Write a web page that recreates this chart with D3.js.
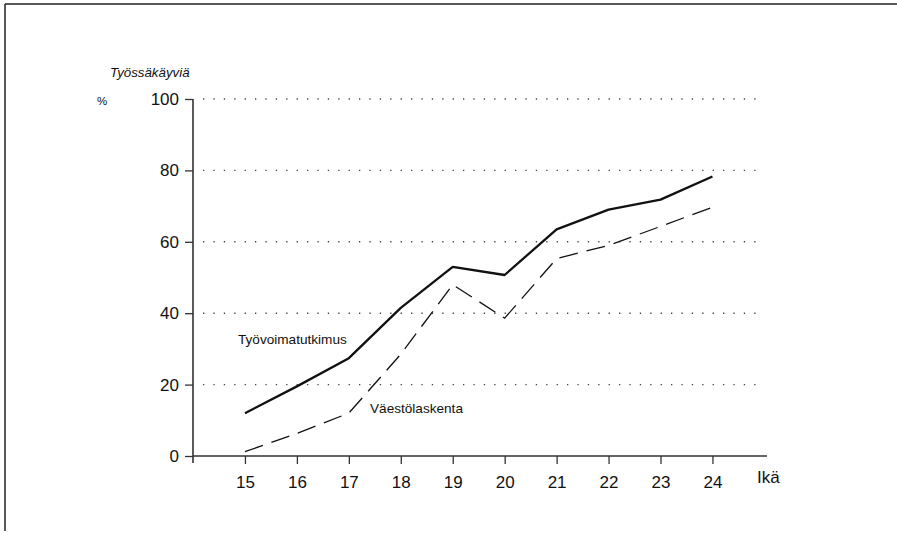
<!DOCTYPE html>
<html>
<head>
<meta charset="utf-8">
<script src="https://cdn.jsdelivr.net/npm/d3@7"></script>
<style>
  html, body { margin: 0; padding: 0; background: #fff; }
  svg { display: block; font-family: "Liberation Sans", Arial, Helvetica, sans-serif; }
</style>
</head>
<body>
<svg id="chart" width="897" height="533"></svg>
<script>
// ages on the x axis
const ages = [15, 16, 17, 18, 19, 20, 21, 22, 23, 24];
// share of employed, %
const tyovoimatutkimus = [12, 19.5, 27.4, 41.5, 53, 50.7, 63.5, 69, 71.8, 78.3];
const vaestolaskenta   = [1.2, 6.3, 12, 28.5, 48, 38.6, 55.3, 59, 64.3, 69.7];
const yTicks = [0, 20, 40, 60, 80, 100];

const svg = d3.select("#chart");

// scales: axis corner sits at age 14, 0 %
const x = d3.scaleLinear().domain([14, 25.05]).range([193, 767]);
const y = d3.scaleLinear().domain([0, 100]).range([456, 99]);

// page frame (top and left edges only, like the scan)
svg.append("line")
  .attr("x1", 5).attr("x2", 897).attr("y1", 4).attr("y2", 4)
  .attr("stroke", "#222").attr("stroke-width", 1.5);
svg.append("line")
  .attr("x1", 5).attr("x2", 5).attr("y1", 4).attr("y2", 531)
  .attr("stroke", "#222").attr("stroke-width", 1.5);

// dotted grid lines
svg.append("g")
  .selectAll("line")
  .data(yTicks.filter(d => d > 0))
  .join("line")
    .attr("x1", x(14) + 10)
    .attr("x2", 763)
    .attr("y1", d => y(d))
    .attr("y2", d => y(d))
    .attr("stroke", "#444")
    .attr("stroke-width", 1.4)
    .attr("stroke-dasharray", "1.3,9.1");

// axes
const yAxis = svg.append("g")
  .attr("transform", `translate(${x(14)},0)`)
  .call(d3.axisLeft(y).tickValues(yTicks).tickSize(8).tickPadding(6).tickFormat(d3.format("d")));
yAxis.select(".domain").attr("d", `M0,${y(100)}V${y(0) + 7}`);

const xAxis = svg.append("g")
  .attr("transform", `translate(0,${y(0)})`)
  .call(d3.axisBottom(x).tickValues(ages).tickSize(8).tickPadding(12).tickFormat(d3.format("d")));
xAxis.select(".domain").attr("d", `M${x(14)},0H${x(25.05)}`);

svg.selectAll(".domain").attr("stroke", "#333").attr("stroke-width", 1.6);
svg.selectAll(".tick line").attr("stroke", "#333").attr("stroke-width", 1.3);
svg.selectAll(".tick text")
  .attr("fill", "#111")
  .style("font-size", "17px")
  .style("font-family", "'Liberation Sans', Arial, sans-serif");

// axis titles
svg.append("text")
  .attr("x", 110).attr("y", 77)
  .style("font-size", "13.3px")
  .style("font-style", "italic")
  .attr("fill", "#111")
  .text("Työssäkäyviä");
svg.append("text")
  .attr("x", 97).attr("y", 105)
  .style("font-size", "11.5px")
  .attr("fill", "#111")
  .text("%");
svg.append("text")
  .attr("x", 757).attr("y", 483)
  .style("font-size", "17px")
  .attr("fill", "#111")
  .text("Ikä");

// series lines
const line = d3.line()
  .x((d, i) => x(ages[i]))
  .y(d => y(d));

svg.append("path")
  .datum(tyovoimatutkimus)
  .attr("fill", "none")
  .attr("stroke", "#111")
  .attr("stroke-width", 2.3)
  .attr("stroke-linejoin", "round")
  .attr("d", line);

svg.append("path")
  .datum(vaestolaskenta)
  .attr("fill", "none")
  .attr("stroke", "#111")
  .attr("stroke-width", 1.3)
  .attr("stroke-dasharray", "19,9")
  .attr("d", line);

// series labels
svg.append("text")
  .attr("x", 238).attr("y", 344)
  .style("font-size", "13.6px")
  .attr("fill", "#111")
  .text("Työvoimatutkimus");
svg.append("text")
  .attr("x", 370).attr("y", 413)
  .style("font-size", "13.6px")
  .attr("fill", "#111")
  .text("Väestölaskenta");
</script>
</body>
</html>
